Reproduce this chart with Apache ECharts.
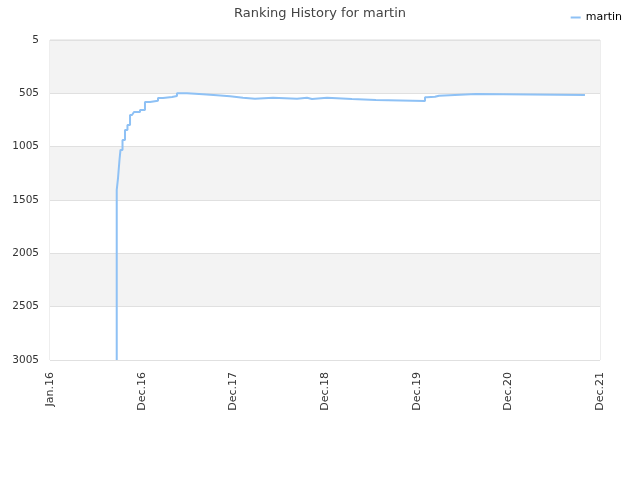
<!DOCTYPE html>
<html>
<head>
<meta charset="utf-8">
<script src="https://cdn.jsdelivr.net/npm/echarts@6/dist/echarts.min.js"></script>
<style>html,body{margin:0;padding:0;background:#fff}#c{width:640px;height:480px}</style>
</head>
<body>
<div id="c"></div>
<script>
var xTickLabels = ['Jan.16', 'Dec.16', 'Dec.17', 'Dec.18', 'Dec.19', 'Dec.20', 'Dec.21'];
var yTicks = [5, 505, 1005, 1505, 2005, 2505, 3005];
// x position in label units (0 = Jan.16 ... 6 = Dec.21)
var xPos = [0.728, 0.728, 0.742, 0.758, 0.769, 0.791, 0.818, 0.845, 0.873, 0.895, 0.916, 0.982,
  1.036, 1.091, 1.178, 1.233, 1.331, 1.385, 1.495, 1.669, 1.822, 1.964, 2.105, 2.236, 2.433,
  2.695, 2.804, 2.858, 2.869, 3.022, 3.294, 3.556, 4.091, 4.113, 4.2, 4.244, 4.647, 5.836];
var ranks = [3005, 1411, 1299, 1130, 1036, 943, 849, 802, 708, 699, 680, 661,
  586, 574, 549, 539, 530, 505, 514, 523, 533, 546, 555, 546, 555,
  546, 558, 568, 546, 558, 568, 577, 542, 537, 527, 511, 521, 521];
var seriesName = 'martin';

var data = xPos.map(function (x, i) { return [x, ranks[i]]; });
var chart = echarts.init(document.getElementById('c'));
chart.setOption({
  animation: false,
  textStyle: { fontFamily: 'DejaVu Sans' },
  title: {
    text: 'Ranking History for martin', left: 'center', top: 2,
    textStyle: { fontSize: 13, fontWeight: 'normal', color: '#444', fontFamily: 'DejaVu Sans' }
  },
  legend: {
    right: 13, top: 7, icon: 'rect', itemWidth: 10, itemHeight: 2, itemGap: 5,
    textStyle: { fontSize: 11, color: '#000', fontFamily: 'DejaVu Sans' },
    data: [seriesName]
  },
  grid: { left: 50, right: 40, top: 40, bottom: 120, show: true, borderColor: '#dcdcdc', borderWidth: 1, backgroundColor: 'transparent' },
  xAxis: {
    type: 'value', min: 0, max: xTickLabels.length - 1, interval: 1,
    axisLine: { show: false }, axisTick: { show: false }, splitLine: { show: false },
    axisLabel: {
      rotate: 90, fontSize: 11, color: '#333', margin: 12,
      formatter: function (v) { return xTickLabels[Math.round(v)] || ''; }
    }
  },
  yAxis: {
    type: 'value', inverse: true, min: yTicks[0], max: yTicks[yTicks.length - 1], interval: 500,
    axisLine: { show: false }, axisTick: { show: false },
    splitLine: { show: true, lineStyle: { color: '#e0e0e0' } },
    splitArea: { show: true, areaStyle: { color: ['#f3f3f3', '#ffffff'] } },
    axisLabel: { fontSize: 10.5, color: '#333', margin: 11, formatter: function (v) { return String(v); } }
  },
  series: [{
    name: seriesName, type: 'line', step: 'end', data: data, symbol: 'none',
    lineStyle: { color: '#8ec1f5', width: 2 }, itemStyle: { color: '#8ec1f5' }
  }]
});
</script>
</body>
</html>
